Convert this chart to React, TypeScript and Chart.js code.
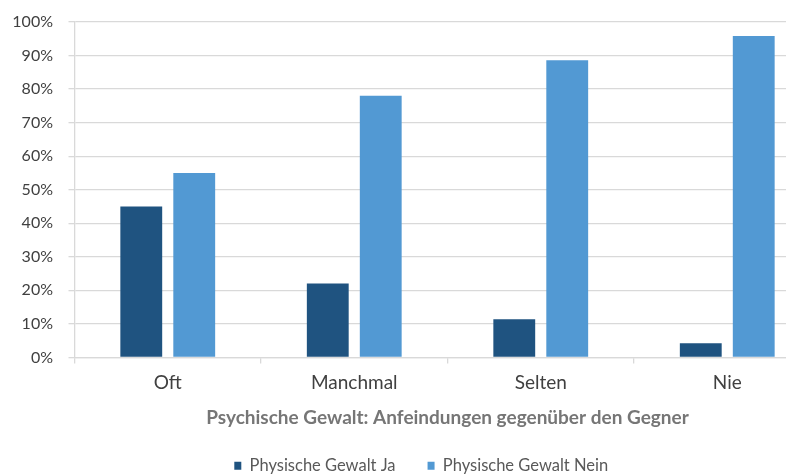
import React, { useEffect, useRef } from "react";
import { Chart, registerables } from "chart.js";

Chart.register(...registerables);

const categories = ["Oft", "Manchmal", "Selten", "Nie"];
const seriesJa = [45.0, 22.0, 11.4, 4.2];
const seriesNein = [55.0, 78.0, 88.6, 95.8];
const seriesLabels = ["Physische Gewalt Ja", "Physische Gewalt Nein"];
const xTitle = "Psychische Gewalt: Anfeindungen gegenüber den Gegner";

const FONT = "Lato, 'Open Sans', sans-serif";

const legendShift = {
  id: "legendShift",
  afterLayout(chart: any) {
    if (chart.legend) {
      chart.legend.left += 6;
      chart.legend.right += 6;
    }
  },
};

export default function App() {
  const ref = useRef<HTMLCanvasElement>(null);
  useEffect(() => {
    if (!ref.current) return;
    const chart = new Chart(ref.current, {
      type: "bar",
      data: {
        labels: categories,
        datasets: [
          {
            label: seriesLabels[0],
            data: seriesJa,
            backgroundColor: "#1F5380",
            borderWidth: 0,
            categoryPercentage: 0.568,
            barPercentage: 0.79,
          },
          {
            label: seriesLabels[1],
            data: seriesNein,
            backgroundColor: "#5299D3",
            borderWidth: 0,
            categoryPercentage: 0.568,
            barPercentage: 0.79,
          },
        ],
      },
      plugins: [legendShift],
      options: {
        responsive: false,
        animation: false,
        layout: { padding: { top: 22, right: 21.5, left: 10, bottom: -9 } },
        plugins: {
          tooltip: { enabled: false },
          legend: {
            position: "bottom",
            labels: {
              font: { family: FONT, size: 16.5 },
              color: "#595959",
              boxWidth: 7,
              boxHeight: 8,
              padding: 32,
            },
          },
        },
        scales: {
          x: {
            grid: {
              display: true,
              drawOnChartArea: false,
              drawTicks: true,
              tickLength: 6,
              color: "#D9D9D9",
              lineWidth: 1.3,
            },
            border: { color: "#D9D9D9", width: 1.3 },
            ticks: {
              font: { family: FONT, size: 19 },
              color: "#404040",
              padding: 7.6,
            },
            title: {
              display: true,
              text: xTitle,
              font: { family: FONT, size: 19, weight: "bold" },
              color: "#767676",
              padding: { top: 5.3, bottom: -4 },
            },
          },
          y: {
            min: 0,
            max: 100,
            afterFit: (scale: any) => {
              scale.width = 64.5;
              scale.paddingTop = 0;
              scale.paddingBottom = 0;
            },
            ticks: {
              stepSize: 10,
              font: { family: FONT, size: 16 },
              color: "#404040",
              padding: 15.5,
              callback: (v: any) => v + "%",
            },
            grid: {
              color: "#D9D9D9",
              lineWidth: 1.3,
              tickLength: 6,
            },
            border: { color: "#D9D9D9", width: 1.3 },
          },
        },
      },
    });
    return () => chart.destroy();
  }, []);
  return (
    <div
      style={{
        position: "absolute",
        left: 0,
        top: 0,
        width: 786,
        height: 475,
        overflow: "hidden",
        background: "#fff",
      }}
    >
      <canvas ref={ref} width={842} height={475} style={{ display: "block" }} />
    </div>
  );
}
